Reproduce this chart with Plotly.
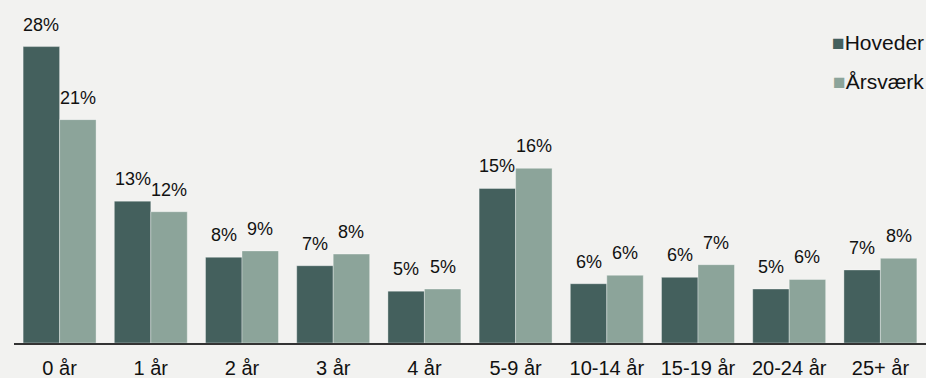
import plotly.graph_objects as go

# Anciennitet (år) – andel af hoveder og årsværk, i procent
categories = ["0 år", "1 år", "2 år", "3 år", "4 år", "5-9 år",
              "10-14 år", "15-19 år", "20-24 år", "25+ år"]
hoveder = [28.0, 13.4, 8.1, 7.3, 4.9, 14.6, 5.6, 6.2, 5.1, 6.9]
aarsvaerk = [21.1, 12.4, 8.7, 8.4, 5.1, 16.5, 6.4, 7.4, 6.0, 8.0]
series_names = ["Hoveder", "Årsværk"]
series_colors = ["#44605d", "#8ca49a"]

FONT = "Arial, 'Liberation Sans', sans-serif"
BG = "#f2f2f0"

fig = go.Figure()
for name, vals, col in zip(series_names, [hoveder, aarsvaerk], series_colors):
    fig.add_trace(go.Bar(
        x=categories, y=vals, name=name,
        marker=dict(color=col, line=dict(color="rgba(255,255,255,0.35)", width=1)),
        showlegend=False,
    ))

# value labels above each bar
annotations = []
for s, vals in enumerate([hoveder, aarsvaerk]):
    off = -0.2 if s == 0 else 0.2
    for i, v in enumerate(vals):
        annotations.append(dict(
            x=i + off, y=v, xref="x", yref="y",
            text=f"{v:.0f}%", showarrow=False,
            yanchor="bottom", yshift=10,
            font=dict(family=FONT, size=18, color="#111111"),
        ))

# legend entries at top right
for k, (name, col) in enumerate(zip(series_names, series_colors)):
    annotations.append(dict(
        x=1.0, y=0.875 - k * 0.112, xref="paper", yref="paper",
        xanchor="right", yanchor="middle", showarrow=False,
        text=f"<span style='color:{col}'>■</span>{name}",
        font=dict(family=FONT, size=21, color="#111111"),
    ))

fig.update_layout(
    width=926, height=378,
    margin=dict(l=14, r=0, t=0, b=35),
    paper_bgcolor=BG, plot_bgcolor=BG,
    barmode="group", bargap=0.2, bargroupgap=0,
    annotations=annotations,
    font=dict(family=FONT, color="#111111"),
)
fig.update_xaxes(
    showline=True, linecolor="#333333", linewidth=1.5,
    ticks="", tickfont=dict(family=FONT, size=20, color="#111111"),
    ticklabelstandoff=6,
    showgrid=False,
)
fig.update_yaxes(
    range=[0, 32.4], visible=False, showgrid=False, zeroline=False,
)

fig.write_html("out.html")
